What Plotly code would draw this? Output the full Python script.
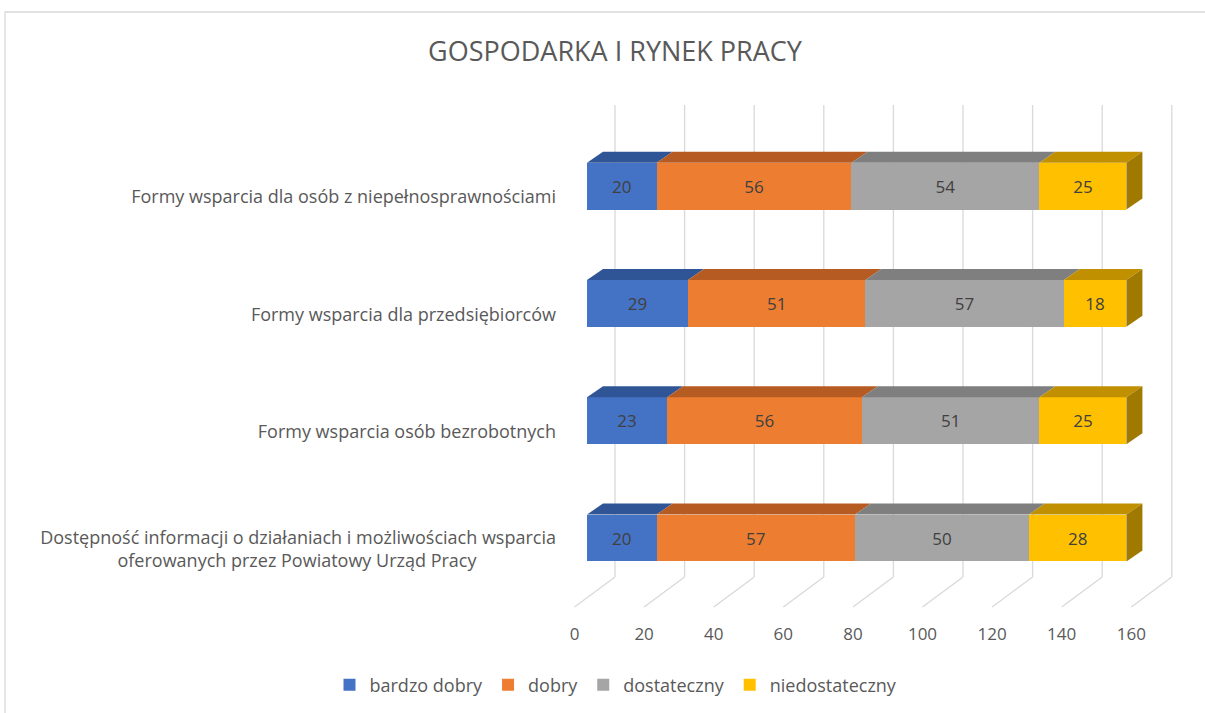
import plotly.graph_objects as go

# ---------------- data ----------------
categories = [
    "Dostępność informacji o działaniach i możliwościach wsparcia<br>oferowanych przez Powiatowy Urząd Pracy",
    "Formy wsparcia osób bezrobotnych",
    "Formy wsparcia dla przedsiębiorców",
    "Formy wsparcia dla osób z niepełnosprawnościami",
]
series_names = ["bardzo dobry", "dobry", "dostateczny", "niedostateczny"]
bardzo_dobry = [20, 23, 29, 20]
dobry = [57, 56, 51, 56]
dostateczny = [50, 51, 57, 54]
niedostateczny = [28, 25, 18, 25]
x_ticks = [0, 20, 40, 60, 80, 100, 120, 140, 160]
title_text = "GOSPODARKA I RYNEK PRACY"

series_values = [bardzo_dobry, dobry, dostateczny, niedostateczny]
front_colors = ["#4472C4", "#ED7D31", "#A5A5A5", "#FFC000"]
top_colors = ["#2F5597", "#B65B22", "#7F7F7F", "#C09000"]
side_color = "#A07A00"

# centre the second line of wrapped category labels (plotly right-aligns them)
tick_text = [c.replace("<br>oferowanych przez Powiatowy Urząd Pracy",
                       "<br>oferowanych przez Powiatowy Urząd Pracy" + "\u00a0" * 17)
             for c in categories]

# ---------------- geometry (pixels -> axis units) ----------------
W, H = 1205, 713
PXU = 3.48            # px per value unit
X0 = 587              # px of value 0 on bar front plane
XL, XR = 560, 1195    # plot area px
PYC = 117.3           # px per category
Y0 = 549              # px of category 0 label centre
YT, YB = 80, 620      # plot area px (top, bottom)

x_range = [(XL - X0) / PXU, (XR - X0) / PXU]
lab_shift = 12.5 / PXU         # tick labels / floor front
back_shift = 28 / PXU          # back wall
dx = 16 / PXU                  # depth x
dy = 11 / PYC                  # depth y
bar_w = 0.40
bar_c = 11 / PYC               # bar centre offset from category
bar_off = bar_c - bar_w / 2
y_range = [(Y0 - YB) / PYC, (Y0 - YT) / PYC]

font = "Open Sans"
txt_col = "#595959"

fig = go.Figure()

# front faces
for name, vals, col in zip(series_names, series_values, front_colors):
    fig.add_trace(go.Bar(
        name=name, orientation="h",
        y=list(range(len(categories))), x=vals,
        width=bar_w, offset=bar_off,
        marker=dict(color=col, line=dict(width=0)),
        text=vals, textposition="inside", insidetextanchor="middle",
        textangle=0, constraintext="none",
        textfont=dict(family=font, size=17, color="#404040"),
        hoverinfo="x+name",
    ))

# top faces and side face
for j, (vals, col) in enumerate(zip(series_values, top_colors)):
    xs, ys = [], []
    for i in range(len(categories)):
        s = sum(series_values[k][i] for k in range(j))
        e = s + vals[i]
        yt = i + bar_c + bar_w / 2
        xs += [s, e, e + dx, s + dx, s, None]
        ys += [yt, yt, yt + dy, yt + dy, yt, None]
    fig.add_trace(go.Scatter(x=xs, y=ys, mode="lines", fill="toself",
                             fillcolor=col, line=dict(width=0),
                             hoverinfo="skip", showlegend=False))
xs, ys = [], []
for i in range(len(categories)):
    e = sum(series_values[k][i] for k in range(len(series_values)))
    yt = i + bar_c + bar_w / 2
    yb = i + bar_c - bar_w / 2
    xs += [e, e, e + dx, e + dx, e, None]
    ys += [yb, yt, yt + dy, yb + dy, yb, None]
fig.add_trace(go.Scatter(x=xs, y=ys, mode="lines", fill="toself",
                         fillcolor=side_color, line=dict(width=0),
                         hoverinfo="skip", showlegend=False))

# axis-tick label carrier (front floor plane)
fig.add_trace(go.Scatter(x=[None], y=[None], xaxis="x2", showlegend=False,
                         hoverinfo="skip"))

# back-wall gridlines and floor lines
p_top = 1 - 105 / H
p_back = 1 - 577 / H
p_front = 1 - 607 / H
shapes = []
for v in x_ticks:
    shapes.append(dict(type="line", xref="x", yref="paper",
                       x0=v + back_shift, x1=v + back_shift, y0=p_back, y1=p_top,
                       line=dict(color="#D9D9D9", width=1.3), layer="below"))
    shapes.append(dict(type="line", xref="x", yref="paper",
                       x0=v + back_shift, x1=v - lab_shift, y0=p_back, y1=p_front,
                       line=dict(color="#D9D9D9", width=1.3), layer="below"))
# chart border
shapes.append(dict(type="rect", xref="paper", yref="paper",
                   x0=5 / W, x1=1.02, y0=-0.02, y1=1 - 12 / H,
                   line=dict(color="#D9D9D9", width=1.3), layer="below"))

dom_x = [XL / W, XR / W]
fig.update_layout(
    width=W, height=H,
    margin=dict(l=0, r=0, t=0, b=0),
    paper_bgcolor="white", plot_bgcolor="rgba(0,0,0,0)",
    barmode="stack",
    title=dict(text=title_text, x=615 / W, xanchor="center",
               y=1 - 52 / H, yanchor="middle",
               font=dict(family=font, size=27, color=txt_col)),
    xaxis=dict(domain=dom_x, range=x_range, showgrid=False, zeroline=False,
               showticklabels=False, showline=False, fixedrange=True),
    xaxis2=dict(domain=dom_x, overlaying="x", anchor="free",
                position=1 - 622 / H, side="bottom",
                range=[x_range[0] + lab_shift, x_range[1] + lab_shift],
                tickvals=x_ticks, ticktext=[str(v) for v in x_ticks],
                showgrid=False, zeroline=False, showline=False, ticks="",
                tickfont=dict(family=font, size=17, color=txt_col)),
    yaxis=dict(domain=[1 - YB / H, 1 - YT / H], range=y_range,
               tickvals=list(range(len(categories))), ticktext=tick_text,
               showgrid=False, zeroline=False, showline=False, ticks="",
               ticklabelstandoff=3,
               tickfont=dict(family=font, size=18, color=txt_col)),
    legend=dict(orientation="h", x=616 / W, xanchor="center",
                y=1 - 685 / H, yanchor="middle",
                font=dict(family=font, size=18, color=txt_col),
                traceorder="normal"),
    shapes=shapes,
    showlegend=True,
)

fig.write_html("out.html", config={"displayModeBar": False},
               post_script="document.body.style.margin='0';document.body.style.overflow='hidden';")
